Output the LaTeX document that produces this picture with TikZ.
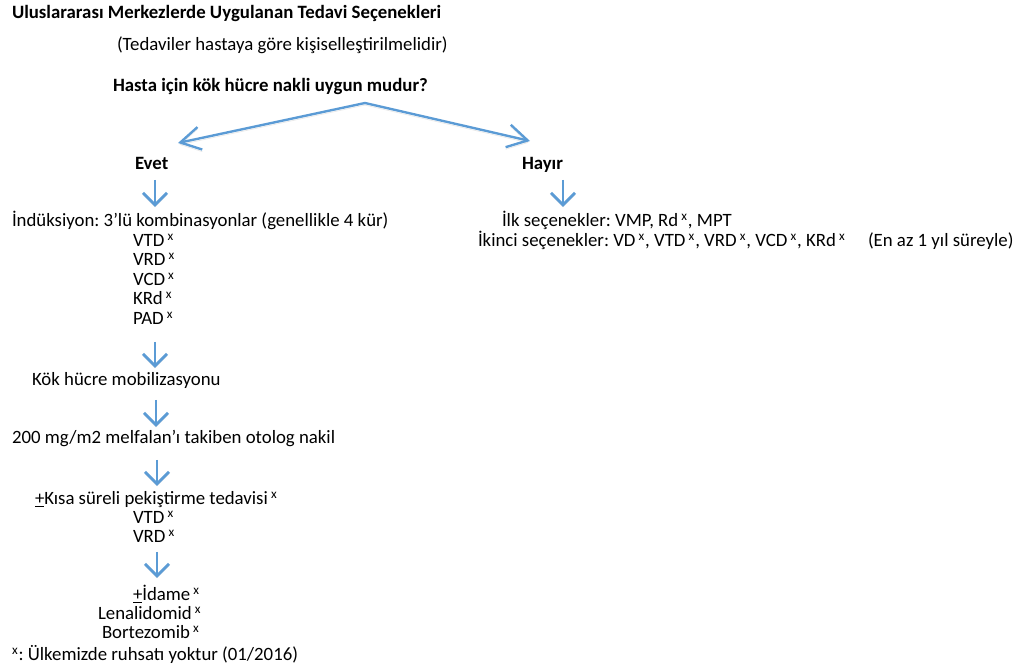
\documentclass[tikz,border=0pt]{standalone}
\usepackage{fontspec}
\setmainfont{Carlito}
\usetikzlibrary{positioning}
\usetikzlibrary{calc,arrows.meta}
\definecolor{okmavi}{RGB}{91,155,213}
\newcommand{\yok}{\,\textsuperscript{x}}
\newcommand{\arti}{\makebox[0pt][l]{\rule[-1.1pt]{0.5em}{0.55pt}}+}
\frenchspacing

\begin{document}
\begin{tikzpicture}[x=0.02cm,y=-0.02cm,every node/.style={outer sep=0pt,inner sep=0pt},
		yazi/.style={anchor=base west,font=\fontsize{10.7}{12}\selectfont},
		kalin/.style={yazi,font=\fontsize{10.7}{12}\selectfont\bfseries},
		asagi/.style={draw=okmavi,line width=1.7pt,-{Straight Barb[length=2.4mm,width=4.8mm]},
		preaction={draw=black!30,opacity=0.35,transform canvas={yshift=-1.2pt}}},
		dal/.style={draw=okmavi,line width=1.35pt,-{Straight Barb[length=4mm,width=4.6mm]},
		preaction={draw=black!30,opacity=0.3,transform canvas={yshift=-1.2pt}}},
		]
		\useasboundingbox (0,0) rectangle (1018,671);
		\node[kalin] (baslik) at (12,19) {Uluslararası Merkezlerde Uygulanan Tedavi Seçenekleri};
		\node[yazi] (not) at (117,51) {(Tedaviler hastaya göre kişiselleştirilmelidir)};
		\node[kalin] (soru) at (113,92) {Hasta için kök hücre nakli uygun mudur?};

		\coordinate (tepe) at (365,103);
		\coordinate (evetuc) at (178,143);
		\coordinate (hayiruc) at (530,141);
		\draw[dal] (tepe) -- (evetuc);
		\draw[dal] (tepe) -- (hayiruc);

		\node[kalin] (evet) at (135,170) {Evet};
		\node[kalin] (hayir) at (522,170) {Hayır};

		% evet kolu
		\coordinate (o1a) at (155,180);
		\coordinate (o1b) at (155,207);
		\draw[asagi] (o1a) -- (o1b);
		\node[yazi] (induk) at (12,227) {İndüksiyon: 3’lü kombinasyonlar (genellikle 4 kür)};
		\node[yazi] (vtd) at (133,247) {VTD\yok};
		\node[yazi] (vrd) at (133,266) {VRD\yok};
		\node[yazi] (vcd) at (133,286) {VCD\yok};
		\node[yazi] (krd) at (133,305) {KRd\yok};
		\node[yazi] (pad) at (133,325) {PAD\yok};

		\coordinate (o2a) at (155,342);
		\coordinate (o2b) at (155,368);
		\draw[asagi] (o2a) -- (o2b);
		\node[yazi] (mobil) at (32,386) {Kök hücre mobilizasyonu};

		\coordinate (o3a) at (156,400);
		\coordinate (o3b) at (156,427);
		\draw[asagi] (o3a) -- (o3b);
		\node[yazi] (nakil) at (12,444) {200 mg/m2 melfalan’ı takiben otolog nakil};

		\coordinate (o4a) at (157,460);
		\coordinate (o4b) at (157,486);
		\draw[asagi] (o4a) -- (o4b);
		\node[yazi] (pekis) at (35,505) {\arti Kısa süreli pekiştirme tedavisi\yok};
		\node[yazi] (pvtd) at (133,524) {VTD\yok};
		\node[yazi] (pvrd) at (133,543) {VRD\yok};

		\coordinate (o5a) at (157,552);
		\coordinate (o5b) at (157,578);
		\draw[asagi] (o5a) -- (o5b);
		\node[yazi] (idame) at (133,601) {\arti İdame\yok};
		\node[yazi] (lena) at (98,620) {Lenalidomid\yok};
		\node[yazi] (bort) at (102,639) {Bortezomib\yok};
		\node[yazi] (dipnot) at (12,661) {\textsuperscript{x}: Ülkemizde ruhsatı yoktur (01/2016)};

		% hayir kolu
		\coordinate (h1a) at (563,180);
		\coordinate (h1b) at (563,207);
		\draw[asagi] (h1a) -- (h1b);
		\node[yazi] (ilk) at (502,227) {İlk seçenekler: VMP, Rd\yok, MPT};
		\node[yazi] (ikinci) at (478,247) {İkinci seçenekler: VD\yok, VTD\yok, VRD\yok, VCD\yok, KRd\yok};
		\node[yazi] (sure) at (868,247) {(En az 1 yıl süreyle)};
\end{tikzpicture}
\end{document}
